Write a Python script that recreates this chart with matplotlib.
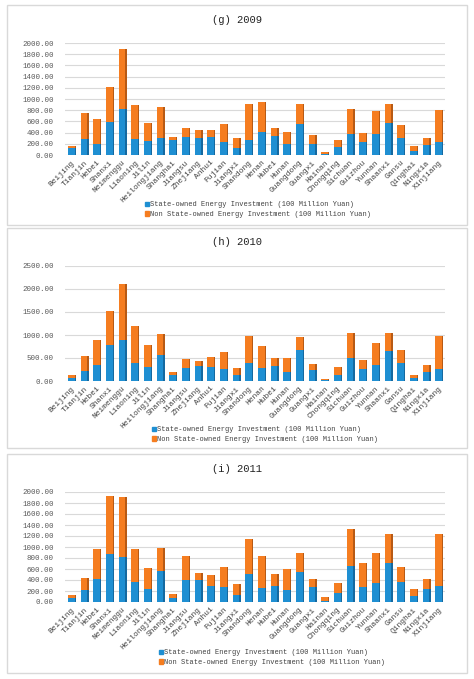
import numpy as np
import matplotlib
matplotlib.use("Agg")
import matplotlib.pyplot as plt
from matplotlib.patches import Rectangle, Patch

provinces = ["Beijing", "Tianjin", "Hebei", "Shanxi", "Neimenggu", "Liaoning", "Jilin",
             "Heilongjiang", "Shanghai", "Jiangsu", "Zhejiang", "Anhui", "Fujian", "Jiangxi",
             "Shandong", "Henan", "Hubei", "Hunan", "Guangdong", "Guangxi", "Hainan",
             "Chongqing", "Sichuan", "Guizhou", "Yunnan", "Shaanxi", "Gansu", "Qinghai",
             "Ningxia", "Xinjiang"]

# state-owned part and total height of each bar (100 million yuan)
state_2009 = [118, 280, 197, 585, 818, 292, 251, 304, 263, 316, 310, 316, 227, 131, 269,
              412, 334, 191, 549, 203, 24, 149, 376, 233, 376, 573, 310, 72, 179, 233]
total_2009 = [162, 758, 639, 1212, 1893, 890, 567, 854, 328, 490, 442, 454, 561, 304, 919,
              943, 484, 406, 919, 352, 60, 275, 824, 400, 788, 919, 531, 155, 304, 806]

state_2010 = [72, 225, 355, 783, 884, 399, 312, 558, 130, 275, 319, 304, 254, 138, 391,
              283, 319, 188, 667, 239, 22, 138, 493, 254, 341, 652, 399, 58, 196, 268]
total_2010 = [138, 543, 884, 1529, 2109, 1203, 775, 1014, 196, 471, 428, 522, 630, 275, 971,
              768, 507, 493, 964, 370, 51, 312, 1051, 464, 826, 1051, 667, 138, 355, 986]

state_2011 = [73, 226, 415, 866, 823, 360, 238, 555, 79, 396, 396, 287, 268, 122, 512,
              256, 287, 213, 537, 268, 24, 165, 659, 274, 341, 707, 372, 104, 232, 299]
total_2011 = [134, 433, 963, 1933, 1915, 957, 616, 982, 140, 841, 524, 482, 634, 329, 1140,
              829, 518, 604, 896, 427, 98, 341, 1323, 701, 890, 1238, 640, 232, 421, 1238]

titles = ["(g) 2009", "(h) 2010", "(i) 2011"]
legend_labels = ["State-owned Energy Investment (100 Million Yuan)",
                 "Non State-owned Energy Investment (100 Million Yuan)"]

W, H = 474, 679
blue, orange = "#1F8FD2", "#F57D20"
blue_dark, orange_dark = "#1569A0", "#B85A14"

fig = plt.figure(figsize=(W / 100, H / 100), dpi=100)
fig.patch.set_facecolor("white")


def px_axes(left, top, right, bottom):
    return fig.add_axes([left / W, 1 - bottom / H, (right - left) / W, (bottom - top) / H])


# panel frames, plot areas, title/legend positions (pixels from top-left)
panels = [
    dict(frame=(7, 5, 467, 225), plot=(65, 43, 445, 155), ymax=2000, step=200,
         title_y=20, leg=(142, 198), state=state_2009, total=total_2009),
    dict(frame=(7, 228, 467, 448), plot=(65, 266, 445, 381), ymax=2500, step=500,
         title_y=242, leg=(149, 423), state=state_2010, total=total_2010),
    dict(frame=(7, 454, 467, 673), plot=(65, 492, 445, 602), ymax=2000, step=200,
         title_y=469, leg=(156, 646), state=state_2011, total=total_2011),
]

x = np.arange(len(provinces))
bw = 0.55
mono = "Liberation Mono"

for p, title in zip(panels, titles):
    l, t, r, b = p["frame"]
    fig.patches.append(Rectangle((l / W, 1 - b / H), (r - l) / W, (b - t) / H,
                                 transform=fig.transFigure, fill=False,
                                 edgecolor="#D9D9D9", linewidth=1.0))
    fig.text(237 / W, 1 - p["title_y"] / H, title, ha="center", va="center",
             fontsize=7.6, family=mono, color="#222222")

    ax = px_axes(*p["plot"])
    state = np.array(p["state"])
    non_state = np.array(p["total"]) - state

    # side face for the pseudo 3D look
    ax.bar(x + 0.1, state, bw, color=blue_dark, zorder=2)
    ax.bar(x + 0.1, non_state, bw, bottom=state, color=orange_dark, zorder=2)
    ax.bar(x, state, bw, color=blue, zorder=3)
    ax.bar(x, non_state, bw, bottom=state, color=orange, zorder=3)

    ax.set_xlim(-0.5, len(provinces) - 0.5)
    ax.set_ylim(0, p["ymax"])
    yt = np.arange(0, p["ymax"] + 1, p["step"])
    ax.set_yticks(yt)
    ax.set_yticklabels([f"{v:.2f}" for v in yt], family=mono, fontsize=5.4, color="#595959")
    ax.set_xticks(x)
    ax.set_xticklabels(provinces, rotation=45, ha="right", rotation_mode="anchor",
                       family=mono, fontsize=5.7, color="#404040")
    ax.tick_params(axis="y", length=0, pad=8)
    ax.tick_params(axis="x", length=0, pad=3)
    ax.grid(axis="y", color="#D9D9D9", linewidth=0.8, zorder=0)
    ax.set_axisbelow(True)
    for s in ax.spines.values():
        s.set_visible(False)

    handles = [Patch(color=blue), Patch(color=orange)]
    lx, ly = p["leg"]
    ax.legend(handles, legend_labels, loc="upper left",
              bbox_to_anchor=(lx / W, 1 - ly / H), bbox_transform=fig.transFigure,
              frameon=False, handlelength=0.55, handleheight=0.55, handletextpad=0.1,
              labelspacing=0.35, borderpad=0, prop=dict(family=mono, size=5.0),
              labelcolor="#404040")

fig.savefig("out.png", dpi=100)
